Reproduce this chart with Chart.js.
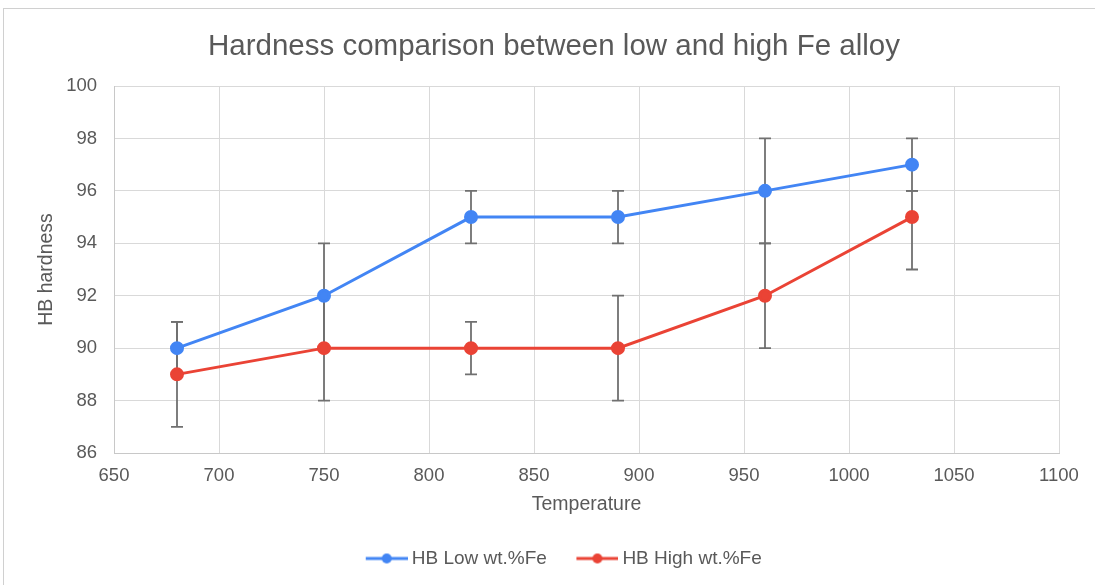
<!DOCTYPE html>
<html><head><meta charset="utf-8">
<script src="https://cdn.jsdelivr.net/npm/chart.js@4/dist/chart.umd.min.js"></script>
<style>
html,body{margin:0;padding:0;background:#fff;}
#wrap{position:relative;width:1095px;height:585px;}
#frame{position:absolute;left:3px;top:8px;width:1200px;height:700px;border:1px solid #d0d0d0;box-sizing:border-box;pointer-events:none;}
canvas{position:absolute;left:0;top:0;}
</style></head>
<body><div id="wrap"><canvas id="c" width="1095" height="585"></canvas><div id="frame"></div></div>
<script>
const temperatures = [680, 750, 820, 890, 960, 1030];
const lowFe = [90, 92, 95, 95, 96, 97];
const lowErrPlus = [1, 2, 1, 1, 2, 1];
const lowErrMinus = [1, 2, 1, 1, 2, 1];
const highFe = [89, 90, 90, 90, 92, 95];
const highErrPlus = [2, 2, 1, 2, 2, 1];
const highErrMinus = [2, 2, 1, 2, 2, 2];
const xTicks = [650, 700, 750, 800, 850, 900, 950, 1000, 1050, 1100];
const yTicks = [86, 88, 90, 92, 94, 96, 98, 100];

const BLUE = '#4285F4', RED = '#EA4335', TXT = '#595959';
const FONT = "'Liberation Sans', Arial, sans-serif";

function legendIcon(color){
  const cv = document.createElement('canvas');
  cv.width = 67; cv.height = 12;
  const g = cv.getContext('2d');
  g.strokeStyle = color; g.lineWidth = 3;
  g.beginPath(); g.moveTo(25, 6); g.lineTo(67, 6); g.stroke();
  g.fillStyle = color; g.beginPath(); g.arc(46, 6, 5, 0, Math.PI*2); g.fill();
  return cv;
}

const errorBars = {
  id: 'errorBars',
  beforeDatasetsDraw(chart){
    const ctx = chart.ctx, xs = chart.scales.x, ys = chart.scales.y;
    const sets = [[lowFe, lowErrPlus, lowErrMinus],[highFe, highErrPlus, highErrMinus]];
    ctx.save();
    ctx.strokeStyle = '#707070'; ctx.lineWidth = 1.8;
    sets.forEach(([vals, p, m]) => {
      temperatures.forEach((t, i) => {
        const x = xs.getPixelForValue(t);
        const y1 = ys.getPixelForValue(vals[i] + p[i]);
        const y2 = ys.getPixelForValue(vals[i] - m[i]);
        ctx.beginPath();
        ctx.moveTo(x, y1); ctx.lineTo(x, y2);
        ctx.moveTo(x-6, y1); ctx.lineTo(x+6, y1);
        ctx.moveTo(x-6, y2); ctx.lineTo(x+6, y2);
        ctx.stroke();
      });
    });
    ctx.restore();
  }
};

new Chart(document.getElementById('c'), {
  type: 'line',
  data: {
    datasets: [
      { label: 'HB Low wt.%Fe', data: temperatures.map((t,i)=>({x:t,y:lowFe[i]})),
        borderColor: BLUE, backgroundColor: BLUE, borderWidth: 3, pointRadius: 5.5,
        pointStyle: 'circle', tension: 0 },
      { label: 'HB High wt.%Fe', data: temperatures.map((t,i)=>({x:t,y:highFe[i]})),
        borderColor: RED, backgroundColor: RED, borderWidth: 3, pointRadius: 5.5,
        pointStyle: 'circle', tension: 0 }
    ]
  },
  options: {
    responsive: false, animation: false,
    events: [],
    layout: { padding: { left: 49, right: 36, top: 0, bottom: 7 } },
    plugins: {
      title: { display: true, text: 'Hardness comparison between low and high Fe alloy',
        color: TXT, font: { family: FONT, size: 29.5, weight: 'normal', lineHeight: 1.2 },
        padding: { top: 29, bottom: 21.6 } },
      legend: { position: 'bottom',
        labels: { color: TXT, font: { family: FONT, size: 19 }, usePointStyle: true,
          pointStyleWidth: 56, boxHeight: 12, padding: 10,
          generateLabels(chart){
            return chart.data.datasets.map((d,i)=>({ text: d.label, pointStyle: legendIcon(d.borderColor),
              fillStyle: d.borderColor, strokeStyle: d.borderColor, lineWidth: 0, datasetIndex: i, hidden: false, fontColor: TXT }));
          } } },
      tooltip: { enabled: false }
    },
    scales: {
      x: { type: 'linear', min: 650, max: 1100,
        afterBuildTicks(s){ s.ticks = xTicks.map(v=>({value:v})); },
        afterFit(s){ s.height = 86; },
        grid: { color: '#d9d9d9', drawTicks: false },
        border: { color: '#c8c8c8' },
        ticks: { color: TXT, font: { family: FONT, size: 18.5 }, padding: 12, maxRotation: 0,
          callback: v => String(v) },
        title: { display: true, text: 'Temperature', color: TXT, font: { family: FONT, size: 19.5 }, padding: { top: 23, bottom: 23 } } },
      y: { type: 'linear', min: 86, max: 100,
        afterBuildTicks(s){ s.ticks = yTicks.map(v=>({value:v})); },
        afterFit(s){ s.width = 65; },
        grid: { color: '#d9d9d9', drawTicks: false },
        border: { color: '#c8c8c8' },
        ticks: { color: TXT, font: { family: FONT, size: 18.5 }, padding: 17, callback: v => String(v) },
        title: { display: true, text: 'HB hardness', color: TXT, font: { family: FONT, size: 19.5 }, padding: { top: -14, bottom: -14 } } }
    }
  },
  plugins: [errorBars]
});
</script></body></html>
